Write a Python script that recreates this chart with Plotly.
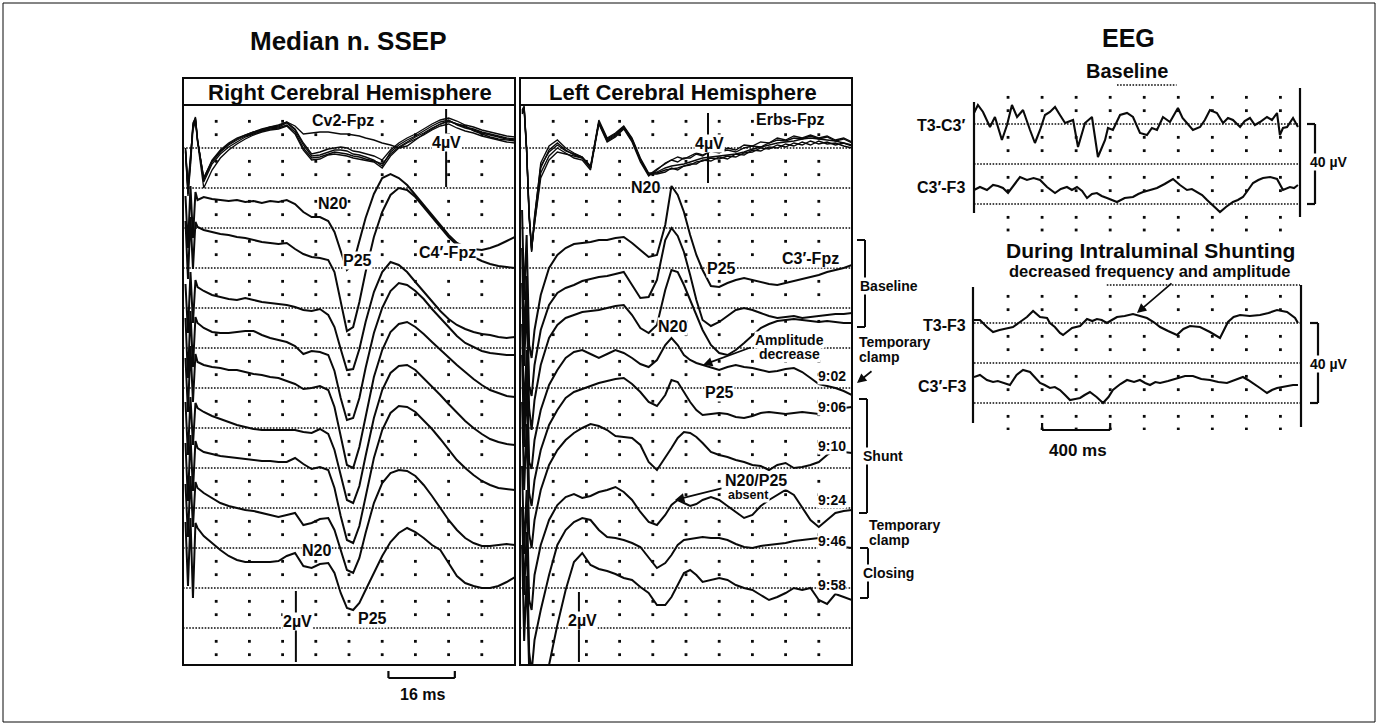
import plotly.graph_objects as go

W, H = 1379, 728

# ------------------------------------------------------------------ data
# SSEP time base in ms after the stimulus; the first five samples cover the stimulus artifact
T_ART_R = [0.6, 1.2, 1.8, 2.4, 3.0]
T_ART_L = [0.5, 1.0, 1.6, 2.2, 2.8]
T_MAIN = [3.5, 5, 7, 9, 11, 13, 15, 17, 19, 21, 23, 25, 27, 29, 31, 33, 35, 36.5, 38, 39.5,
          41, 42.5, 44, 46, 48, 50, 52, 54, 56, 58, 60, 62, 64, 66, 68, 70, 72, 74, 76, 78, 80]

# SSEP deflections, in 1/40-division steps (positive = downward on the page)
CV2_FPZ = [
    [2, 42, 12, -23, -31, -8, 32, 14, 4, -3, -8, -12, -15, -18, -20, -21, -25, -18, -3, 8, 7, 4, 2, 2, 3, 6, 7, 9, 12, 18, 4, -3, -8, -12, -17, -22, -26, -28, -23, -20, -18, -15, -13, -11, -9, -8],
    [0, 38, 8, -20, -29, -8, 30, 13, 3, -4, -9, -13, -16, -19, -21, -22, -26, -22, -14, -15, -16, -16, -15, -14, -14, -13, -12, -10, -8, -5, -3, 0, -2, -8, -14, -19, -24, -27, -24, -21, -19, -16, -14, -12, -10, -9],
    [3, 46, 15, -25, -30, -9, 34, 16, 6, -1, -6, -11, -14, -17, -19, -20, -23, -16, 0, 10, 9, 6, 4, 5, 6, 8, 9, 11, 13, 16, 6, -1, -6, -11, -15, -20, -24, -27, -24, -22, -17, -14, -11, -9, -8, -7],
    [1, 40, 10, -22, -28, -7, 30, 12, 2, -5, -10, -13, -16, -18, -21, -23, -26, -19, -5, 6, 4, 1, 0, -1, 0, 3, 4, 6, 8, 12, 2, -5, -10, -14, -19, -24, -28, -30, -27, -23, -21, -18, -16, -14, -12, -11],
    [4, 48, 18, -18, -27, -6, 40, 22, 10, 2, -4, -9, -13, -16, -18, -19, -22, -14, 2, 12, 11, 7, 6, 7, 8, 10, 11, 12, 14, 20, 8, 0, -5, -9, -13, -18, -22, -24, -20, -17, -15, -12, -10, -8, -6, -5],
]
C4_FPZ = [
    [-4, 48, -14, 38, -8, 0, -3, -1, 0, 1, 0, 2, 1, 3, 1, 2, 0, 4, 12, 17, 17, 21, 32, 52, 70, 64, 42, 18, -6, -22, -26, -22, -15, -5, 5, 15, 25, 35, 43, 47, 49, 50, 48, 45, 41, 37],
    [-6, 52, -10, 42, -5, 0, 3, 5, 7, 8, 10, 11, 13, 15, 16, 17, 16, 22, 27, 30, 31, 33, 45, 75, 104, 100, 75, 45, 10, -15, -32, -39, -37, -30, -20, -10, 0, 10, 18, 25, 30, 34, 37, 39, 40, 41],
    [-3, 46, -15, 36, -7, 0, 4, 8, 10, 12, 13, 11, 13, 15, 16, 17, 18, 20, 23, 24, 22, 28, 40, 62, 83, 82, 62, 35, 5, -15, -25, -22, -15, -5, 5, 15, 24, 32, 38, 42, 45, 47, 48, 50, 51, 50],
    [-5, 55, -12, 44, -6, 0, 5, 9, 10, 10, 9, 8, 8, 12, 15, 17, 19, 23, 31, 28, 29, 32, 48, 75, 97, 95, 75, 45, 10, -15, -32, -40, -38, -32, -24, -14, -5, 5, 13, 20, 24, 28, 30, 31, 32, 32],
    [-4, 50, -16, 40, -8, 0, 3, 5, 6, 8, 8, 10, 12, 13, 15, 16, 19, 22, 27, 26, 24, 28, 45, 75, 103, 106, 85, 55, 15, -12, -30, -38, -40, -35, -28, -20, -12, -5, 3, 10, 17, 23, 28, 31, 34, 35],
    [-6, 47, -11, 37, -5, 0, 4, 8, 11, 14, 17, 19, 21, 22, 22, 22, 22, 22, 24, 25, 21, 26, 42, 68, 92, 95, 78, 48, 10, -18, -35, -42, -43, -38, -30, -22, -13, -4, 5, 13, 20, 26, 31, 34, 36, 37],
    [-5, 53, -13, 43, -7, 0, 4, 6, 8, 9, 10, 11, 12, 13, 13, 14, 14, 10, 16, 21, 19, 22, 40, 68, 92, 95, 78, 48, 10, -18, -35, -42, -41, -36, -28, -19, -9, 2, 12, 20, 27, 33, 37, 40, 41, 42],
    [-4, 49, -12, 39, -6, 0, 5, 10, 15, 18, 20, 22, 23, 25, 27, 29, 27, 25, 37, 35, 31, 30, 42, 62, 82, 85, 70, 45, 15, -5, -15, -18, -17, -12, -3, 8, 20, 32, 42, 50, 55, 58, 58, 57, 56, 57],
    [-6, 58, -10, 70, -5, 0, 8, 15, 22, 28, 32, 34, 34, 34, 34, 33, 28, 25, 38, 40, 36, 35, 45, 65, 80, 82, 75, 62, 45, 28, 14, 5, 0, 4, 10, 17, 22, 35, 48, 55, 58, 60, 60, 58, 54, 49],
]
ERBS_FPZ = [
    [-36, -40, 2, 67, 102, 72, 20, 2, -5, 2, 7, 10, 20, -26, -8, -13, -21, -8, 12, 27, 24, 20, 18, 17, 16, 14, 12, 10, 9, 8, 7, 6, 4, 1, -1, -3, -5, -6, -7, -9, -10, -9, -8, -7, -5, -3],
    [-34, -38, 5, 70, 100, 75, 25, 8, 0, 5, 10, 12, 22, -24, -6, -11, -19, -6, 14, 28, 22, 15, 12, 9, 11, 8, 5, 7, 3, 4, 2, 4, 0, -2, -1, -5, -8, -7, -10, -9, -12, -9, -11, -7, -9, -5],
    [-38, -42, 0, 64, 104, 70, 15, -2, -8, 0, 5, 9, 18, -28, -10, -15, -22, -10, 10, 25, 25, 22, 21, 20, 18, 17, 14, 13, 10, 11, 8, 9, 5, 4, 0, 1, -3, -1, -5, -3, -7, -4, -6, -3, -5, -2],
    [-35, -39, 4, 66, 98, 78, 30, 12, 4, 6, 8, 10, 19, -25, -7, -12, -20, -7, 12, 26, 26, 24, 20, 22, 18, 16, 16, 12, 13, 9, 11, 6, 7, 2, 3, -1, 0, -4, -2, -6, -3, -7, -4, -5, -2, 0],
    [-37, -41, 1, 69, 103, 68, 18, 4, -3, 3, 6, 9, 20, -26, -9, -14, -21, -9, 11, 27, 21, 16, 12, 14, 10, 10, 6, 8, 3, 5, 0, 2, -3, -2, -6, -5, -10, -8, -12, -10, -13, -10, -12, -8, -10, -6],
]
C3_FPZ = [
    [-30, 60, -5, 105, 118, 90, 55, 28, 15, 8, 4, 3, 2, 0, 0, -2, -3, 3, 10, 17, 15, -15, -54, -45, -28, -5, 15, 30, 46, 47, 43, 40, 38, 40, 42, 44, 45, 43, 41, 39, 37, 35, 32, 30, 28, 25],
    [-28, 65, 0, 110, 120, 89, 54, 29, 17, 12, 9, 5, 3, 1, 0, -2, -4, 9, 22, 21, 4, -36, -48, -40, -24, -1, 24, 44, 50, 46, 40, 34, 32, 34, 37, 40, 42, 41, 40, 42, 41, 40, 39, 38, 38, 37],
    [-25, 58, -8, 100, 122, 92, 57, 30, 17, 10, 7, 4, 3, 2, 0, -2, -3, 7, 20, 25, 17, -18, -38, -36, -23, -8, 7, 22, 37, 45, 47, 42, 35, 27, 20, 16, 13, 12, 11, 12, 13, 14, 13, 14, 15, 15],
    [-30, 62, -4, 108, 115, 86, 56, 31, 16, 4, -2, -4, 0, 4, 0, -4, -1, 4, 10, 13, 6, -9, -16, -9, 1, 6, 9, 11, 14, 16, 13, 11, 13, 14, 16, 18, 17, 15, 14, 18, 24, 30, 32, 34, 37, 41],
    [-26, 66, 2, 112, 125, 99, 69, 44, 29, 17, 11, 8, 5, 2, 0, -2, -3, 3, 11, 21, 25, 14, -1, 1, 11, 21, 29, 34, 33, 32, 33, 36, 37, 35, 32, 31, 32, 33, 32, 31, 32, 33, 31, 29, 27, 26],
    [-28, 60, -6, 104, 118, 90, 60, 35, 20, 10, 3, -2, -6, -4, 0, 6, 7, 8, 15, 32, 40, 28, 18, 8, 2, 3, 7, 13, 22, 25, 27, 30, 32, 35, 36, 40, 35, 33, 38, 37, 35, 32, 25, 20, 22, 23],
    [-24, 64, 0, 110, 120, 85, 55, 30, 15, 7, 4, 8, 6, 2, 0, -3, 2, 10, 22, 32, 35, 25, 15, 10, 13, 16, 14, 10, 7, 10, 16, 22, 28, 25, 16, 10, 5, 0, 5, 18, 30, 37, 30, 23, 21, 20],
    [-30, 58, -5, 115, 135, 103, 73, 38, 8, -7, -15, -19, -17, -7, 0, 1, 3, 6, 10, 21, 31, 26, 18, 8, 3, 2, 1, 0, 1, 1, 3, 7, 10, 11, 9, 8, 7, 6, 4, 3, 2, 1, 8, 9, 10, 11],
    [-26, 70, 5, 150, 190, 169, 139, 94, 54, 19, -9, -18, -6, -2, 0, 3, 7, 9, 16, 22, 34, 34, 26, 14, 2, -1, 4, 11, 9, 7, 9, 14, 17, 19, 24, 29, 26, 22, 17, 19, 17, 29, 33, 23, 26, 29],
]
LEFT_TIMES = ["", "", "", "9:02", "9:06", "9:10", "9:24", "9:46", "9:58"]

# EEG (ms, µV relative to each channel's reference line)
EEG_B_T3C3_T = [0, 23, 53, 94, 123, 164, 194, 223, 253, 288, 329, 358, 388, 417, 446, 476, 505, 535, 582, 611, 652, 693, 728, 770, 787, 816, 858, 899, 934, 975, 1016, 1045, 1075, 1110, 1151, 1198, 1225, 1251, 1286, 1328, 1356, 1386, 1427, 1463, 1492, 1521, 1563, 1590, 1621, 1650, 1680, 1721, 1750, 1780, 1797, 1815, 1839, 1874, 1903]
EEG_B_T3C3_V = [5.5, 9.5, 6, -1.5, 3.5, -8, -0.5, 9.5, 3.5, 7, -3, -9.5, -3, 4.5, 6, 8.5, 4.5, 0.5, 2, -11.5, 0.5, 3.5, -16.5, -8, -2, -3, 4.5, 5.5, 3.5, -4.5, -5.5, -2, -3, 3.5, 1, 8, 3, 0.5, -3, -1.5, 2, 7, 5.5, 0.5, 3, 2, -1.5, 1.5, 3, -0.5, 1, 3.5, 2, 5.5, -5.5, -2, -1.5, 3, -1.5]
EEG_B_C3F3_T = [0, 35, 76, 112, 141, 170, 200, 241, 270, 311, 350, 388, 429, 476, 510, 546, 575, 605, 635, 664, 693, 722, 750, 781, 810, 840, 885, 934, 965, 993, 1035, 1075, 1120, 1169, 1210, 1251, 1280, 1310, 1340, 1369, 1405, 1445, 1480, 1521, 1550, 1580, 1610, 1639, 1670, 1698, 1740, 1780, 1815, 1856, 1880, 1903]
EEG_B_C3F3_V = [-13, -11.5, -13, -10.5, -11, -12, -14.5, -9.5, -6.5, -8, -7, -8, -11.5, -14.5, -12.5, -11.5, -13, -11.5, -13.5, -17, -15, -14.5, -16, -17, -18, -19, -17, -16.5, -15, -14, -13, -12, -10, -7.5, -10.5, -13, -12.5, -14, -15.5, -18, -21, -24, -21.5, -19, -18, -16.5, -13, -9.5, -8, -7, -6.5, -7.5, -13, -11.5, -12, -10.5]
EEG_S_T3F3_T = [0, 35, 76, 112, 150, 194, 229, 270, 311, 347, 388, 429, 446, 475, 505, 523, 550, 576, 623, 664, 695, 722, 750, 781, 810, 840, 885, 934, 975, 1016, 1055, 1093, 1140, 1192, 1230, 1269, 1328, 1386, 1445, 1492, 1525, 1563, 1620, 1680, 1730, 1780, 1839, 1886, 1903]
EEG_S_T3F3_V = [1.5, 1.5, -2, -4.5, -3.5, -2.5, -2, 0.5, 3, 6, 3, 2.5, 0, -2, -5, -6, -4, -2.5, -1.5, 2, 1, 2, 1.5, 0, 1.5, 3, 3.5, 4.5, 3.5, 2.5, 0.5, -2, -4, -6, -3, -1.5, -2, -4.5, -7.5, 0.5, 3, 4, 3.5, 4, 5, 6.5, 5.5, 2.5, 0]
EEG_S_C3F3_T = [0, 35, 76, 112, 140, 170, 211, 250, 288, 329, 360, 388, 415, 446, 475, 505, 535, 564, 595, 623, 650, 681, 720, 758, 790, 816, 860, 899, 940, 975, 1005, 1034, 1065, 1093, 1140, 1192, 1240, 1286, 1335, 1386, 1435, 1486, 1530, 1580, 1610, 1639, 1680, 1721, 1750, 1780, 1830, 1874, 1903]
EEG_S_C3F3_V = [-7, -6, -8.5, -9.5, -9, -10, -11, -6, -3.5, -4.5, -7.5, -10, -11, -12.5, -12, -13.5, -16, -18.5, -18, -17.5, -16, -14.5, -17, -20, -17, -13.5, -10.5, -8.5, -9.5, -8.5, -10, -11, -9.5, -10, -9, -7.5, -6.5, -6.5, -8, -8.5, -9.5, -10, -8.5, -7, -8.5, -10, -12.5, -15, -13.5, -12.5, -11.5, -11, -11]

# scale bars (data units)
BAR_16MS = [49.5, 65.5]
BAR_400MS = [400, 800]
BAR_40UV = [0, -40]

# ------------------------------------------------------------------ layout / positions
STEP = 40.0                      # deflection steps per grid division
R_STACK = [-1.3, -1.975, -3.475, -4.375, -5.35, -6.5, -7.5, -8.5, -9.5]
L_STACK = [-2.3, -3.2, -4.0, -5.15, -5.825, -7.05, -8.55, -9.725, -10.575]
CLUSTER_Y = 0.0
EEG_SECOND_LINE = -20.0

FONT = "Liberation Sans, Arial, Helvetica, sans-serif"
BLACK = "#0a0a0a"

fig = go.Figure()


def fx(p):
    return p / W


def fy(p):
    return 1 - p / H


def trace(x, y, xa, ya, width=1.9, color=BLACK, dash=None):
    fig.add_trace(go.Scatter(x=x, y=y, mode="lines", xaxis=xa, yaxis=ya,
                             line=dict(color=color, width=width, dash=dash), hoverinfo="skip"))


DOT = "1.6px,1.5px"


def ssep_grid(xa, ya):
    gx, gy = [], []
    for k in range(0, -13, -1):
        gx += [0, 80, None]
        gy += [k, k, None]
    trace(gx, gy, xa, ya, width=1.5, dash=DOT)
    dx, dy = [], []
    for c in range(8, 80, 8):
        for k in range(1, -13, -1):
            for f in (1 / 3, 2 / 3):
                dx.append(c)
                dy.append(k - f)
    fig.add_trace(go.Scatter(x=dx, y=dy, mode="markers", xaxis=xa, yaxis=ya, hoverinfo="skip",
                             marker=dict(symbol="square", size=2.8, color=BLACK)))


def eeg_grid(xa, ya, partial_top=None):
    gx, gy = [], []
    for k in (0, -20, -40):
        gx += [0, 1915, None]
        gy += [k, k, None]
    if partial_top:
        gx += [partial_top[0], partial_top[1], None]
        gy += [partial_top[2], partial_top[2], None]
    trace(gx, gy, xa, ya, width=1.5, dash=DOT)
    dx, dy = [], []
    for c in range(200, 1900, 200):
        for v in (13.33, 6.67, -6.67, -13.33, -26.67, -33.33, -46.67, -53.0):
            dx.append(c)
            dy.append(v)
    fig.add_trace(go.Scatter(x=dx, y=dy, mode="markers", xaxis=xa, yaxis=ya, hoverinfo="skip",
                             marker=dict(symbol="square", size=2.8, color=BLACK)))


# grids
ssep_grid("x", "y")
ssep_grid("x2", "y2")
eeg_grid("x3", "y3", partial_top=(840, 1190, 19.5))
eeg_grid("x4", "y4", partial_top=(780, 1915, 19))

# SSEP right hemisphere
tr = T_ART_R + T_MAIN
for d in CV2_FPZ:
    trace(tr, [CLUSTER_Y - v / STEP for v in d], "x", "y", width=1.35)
for d, y0 in zip(C4_FPZ, R_STACK):
    trace(tr, [y0 - v / STEP for v in d], "x", "y", width=2.0)

# SSEP left hemisphere
tl = T_ART_L + T_MAIN
for d in ERBS_FPZ:
    trace(tl, [CLUSTER_Y - v / STEP for v in d], "x2", "y2", width=1.35)
for d, y0 in zip(C3_FPZ, L_STACK):
    trace(tl, [y0 - v / STEP for v in d], "x2", "y2", width=2.0)

# EEG
trace(EEG_B_T3C3_T, EEG_B_T3C3_V, "x3", "y3", width=2.1)
trace(EEG_B_C3F3_T, [EEG_SECOND_LINE + v for v in EEG_B_C3F3_V], "x3", "y3", width=2.1)
trace(EEG_S_T3F3_T, EEG_S_T3F3_V, "x4", "y4", width=2.1)
trace(EEG_S_C3F3_T, [EEG_SECOND_LINE + v for v in EEG_S_C3F3_V], "x4", "y4", width=2.1)

# amplitude bars inside the SSEP panels
trace([63.4, 63.4], [0.975, -0.975], "x", "y", width=2.0)
trace([45.3, 45.3], [0.875, -0.875], "x2", "y2", width=2.0)
trace([27.2, 27.2], [-11.075, -12.85], "x", "y", width=2.0)
trace([14.2, 14.2], [-11.1, -12.85], "x2", "y2", width=2.0)

shapes = []


def rect(x0, y0, x1, y1, w=2.0):
    shapes.append(dict(type="rect", xref="paper", yref="paper", x0=fx(x0), x1=fx(x1), y0=fy(y1), y1=fy(y0),
                       line=dict(color=BLACK, width=w)))


def seg(x0, y0, x1, y1, w=2.0, xref="paper", yref="paper"):
    X0 = fx(x0) if xref == "paper" else x0
    X1 = fx(x1) if xref == "paper" else x1
    Y0 = fy(y0) if yref == "paper" else y0
    Y1 = fy(y1) if yref == "paper" else y1
    shapes.append(dict(type="line", xref=xref, yref=yref, x0=X0, x1=X1, y0=Y0, y1=Y1,
                       line=dict(color=BLACK, width=w)))


# page border
rect(3, 3, 1375, 722, w=1)
# SSEP panel frames and headers
rect(183, 78, 515, 665)
seg(183, 105, 515, 105)
rect(520, 78, 852, 665)
seg(520, 105, 852, 105)
# EEG side rules
seg(974, 102, 974, 213, w=2.2)
seg(1300, 88, 1300, 217, w=2.2)
seg(973, 287, 973, 423, w=2.2)
seg(1301, 285, 1301, 427, w=2.2)

# brackets on the SSEP right side
for top, bot, x in ((240, 327, 865), (399, 513, 867), (548, 598, 868)):
    seg(x - 8, top, x, top)
    seg(x, top, x, bot)
    seg(x - 8, bot, x, bot)

# 16 ms bar (x in data units)
seg(BAR_16MS[0], 678, BAR_16MS[1], 678, xref="x", w=2.2)
seg(BAR_16MS[0], 671, BAR_16MS[0], 678, xref="x", w=2.2)
seg(BAR_16MS[1], 671, BAR_16MS[1], 678, xref="x", w=2.2)
# 400 ms bar
seg(BAR_400MS[0], 430, BAR_400MS[1], 430, xref="x4", w=2.2)
seg(BAR_400MS[0], 423, BAR_400MS[0], 430, xref="x4", w=2.2)
seg(BAR_400MS[1], 423, BAR_400MS[1], 430, xref="x4", w=2.2)
# 40 µV brackets (y in data units)
for ya, xb in (("y3", 1315), ("y4", 1318)):
    shapes.append(dict(type="line", xref="paper", yref=ya, x0=fx(xb), x1=fx(xb), y0=BAR_40UV[0], y1=BAR_40UV[1],
                       line=dict(color=BLACK, width=2.2)))
    for v in BAR_40UV:
        shapes.append(dict(type="line", xref="paper", yref=ya, x0=fx(xb - 8), x1=fx(xb), y0=v, y1=v,
                           line=dict(color=BLACK, width=2.2)))

annotations = []


def txt(s, x, y, size, anchor="center", bg="white", bold=True):
    annotations.append(dict(text=f"<b>{s}</b>" if bold else s, x=fx(x), y=fy(y), xref="paper", yref="paper",
                            showarrow=False, xanchor=anchor, yanchor="middle", bgcolor=bg, borderpad=0,
                            font=dict(family=FONT, size=size, color=BLACK)))


def arrow(hx, hy, tx, ty):
    annotations.append(dict(text="", x=fx(hx), y=fy(hy), xref="paper", yref="paper", ax=tx - hx, ay=ty - hy,
                            axref="pixel", ayref="pixel", showarrow=True, arrowhead=2, arrowsize=1.1,
                            arrowwidth=1.7, arrowcolor=BLACK))


txt("Median n. SSEP", 348, 41, 26, bg=None)
txt("EEG", 1128, 38, 25, bg=None)
txt("Right Cerebral Hemisphere", 350, 92, 22, bg=None)
txt("Left Cerebral Hemisphere", 683, 92, 22, bg=None)
txt("Cv2-Fpz", 343, 121, 16)
txt("4µV", 446, 143, 16)
txt("N20", 332, 203, 16)
txt("P25", 357, 260, 16)
txt("C4′-Fpz", 447, 252, 16)
txt("N20", 316, 550, 16)
txt("P25", 372, 618, 16)
txt("2µV", 297, 621, 16)
txt("16 ms", 422, 694, 16, bg=None)
txt("Erbs-Fpz", 790, 120, 16)
txt("4µV", 710, 144, 16)
txt("N20", 645, 188, 16)
txt("P25", 721, 268, 16)
txt("C3′-Fpz", 810, 258, 16)
txt("N20", 672, 327, 16)
txt("P25", 719, 392, 16)
txt("Amplitude", 789, 340, 14)
txt("decrease", 789, 354, 14)
txt("N20/P25", 756, 480, 16)
txt("absent", 748, 495, 12.5)
txt("2µV", 582, 620, 16)
for lab_, yy in zip(LEFT_TIMES, [0, 0, 0, 376, 407, 446, 500, 541, 585]):
    if lab_:
        txt(lab_, 832, yy, 14)
txt("Baseline", 889, 286, 14)
txt("Temporary", 858, 342, 14, anchor="left")
txt("clamp", 858, 357, 14, anchor="left")
txt("Shunt", 862, 456, 14, anchor="left")
txt("Temporary", 868, 525, 14, anchor="left")
txt("clamp", 868, 540, 14, anchor="left")
txt("Closing", 862, 573, 14, anchor="left")
txt("Baseline", 1127, 71, 20, bg=None)
txt("During Intraluminal Shunting", 1150, 250, 21, bg=None)
txt("decreased frequency and amplitude", 1150, 271, 16.5, bg=None)
txt("T3-C3′", 966, 125, 16, anchor="right", bg=None)
txt("C3′-F3", 966, 188, 16, anchor="right", bg=None)
txt("T3-F3", 967, 325, 16, anchor="right", bg=None)
txt("C3′-F3", 967, 386, 16, anchor="right", bg=None)
txt("40 µV", 1329, 162, 14)
txt("40 µV", 1329, 364, 14)
txt("400 ms", 1078, 450, 17, bg=None)

arrow(703, 365, 752, 347)
arrow(675, 500, 723, 488)
arrow(857, 383, 873, 370)
arrow(1137, 313, 1173, 282)

noax = dict(visible=False, fixedrange=True)
fig.update_layout(
    width=W, height=H, margin=dict(l=0, r=0, t=0, b=0),
    paper_bgcolor="white", plot_bgcolor="rgba(0,0,0,0)", showlegend=False,
    xaxis=dict(domain=[fx(183), fx(515)], range=[0, 80], **noax),
    yaxis=dict(domain=[fy(665), fy(105)], range=[-12.925, 1.075], **noax),
    xaxis2=dict(domain=[fx(520), fx(852)], range=[0, 80], **noax),
    yaxis2=dict(domain=[fy(665), fy(105)], range=[-12.925, 1.075], **noax),
    xaxis3=dict(domain=[fx(974), fx(1300)], range=[0, 1915], **noax),
    yaxis3=dict(domain=[fy(232), fy(84)], range=[-54, 20], **noax),
    xaxis4=dict(domain=[fx(974), fx(1300)], range=[0, 1915], **noax),
    yaxis4=dict(domain=[fy(430), fy(283)], range=[-53.5, 20], **noax),
    shapes=shapes, annotations=annotations,
)

fig.write_html("out.html", include_plotlyjs=True, config={"staticPlot": True},
               post_script="document.body.style.margin='0';document.body.style.overflow='hidden';")
